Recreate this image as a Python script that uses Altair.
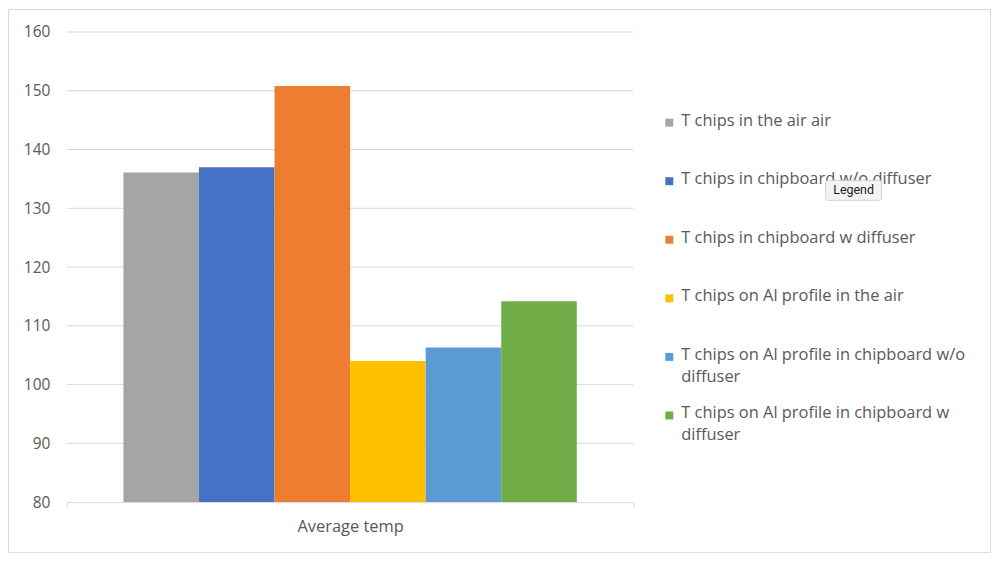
import altair as alt
import pandas as pd

series = [
    "T chips in the air air",
    "T chips in chipboard w/o diffuser",
    "T chips in chipboard w diffuser",
    "T chips on Al profile in the air",
    "T chips on Al profile in chipboard w/o diffuser",
    "T chips on Al profile in chipboard w diffuser",
]
legend_labels = [
    "T chips in the air air",
    "T chips in chipboard w/o diffuser",
    "T chips in chipboard w diffuser",
    "T chips on Al profile in the air",
    "T chips on Al profile in chipboard w/o\ndiffuser",
    "T chips on Al profile in chipboard w\ndiffuser",
]
values = [136.1, 137.0, 150.8, 104.0, 106.3, 114.2]
category = "Average temp"
colors = ["#A5A5A5", "#4472C4", "#ED7D31", "#FFC000", "#5B9BD5", "#70AD47"]
y_ticks = [80, 90, 100, 110, 120, 130, 140, 150, 160]

FONT = "Open Sans"
FS = 15.5
FS_TXT = 16.5
TXT = "#595959"
GRID = "#D9D9D9"

W, H = 986, 545
Y_BOTTOM, Y_TOP = 495, 23
X_LEFT, X_RIGHT = 59, 628

bars_df = pd.DataFrame({"category": [category] * len(series), "series": series, "value": values})
legend_df = pd.DataFrame({"series": series, "label": legend_labels})
grid_df = pd.DataFrame({"tick": y_ticks[1:]})

color = alt.Color("series:N", scale=alt.Scale(domain=series, range=colors), legend=None)
yscale = alt.Scale(domain=[80, 160], range=[Y_BOTTOM, Y_TOP], nice=False, zero=False)

grid = alt.Chart(grid_df).mark_rule(color=GRID, strokeWidth=1).encode(
    y=alt.Y("tick:Q", scale=yscale, axis=None),
    x=alt.value(X_LEFT),
    x2=alt.value(X_RIGHT),
)

bars = alt.Chart(bars_df).mark_bar().encode(
    x=alt.X(
        "category:N",
        title=None,
        scale=alt.Scale(range=[X_LEFT, X_RIGHT], paddingInner=0, paddingOuter=0),
        axis=alt.Axis(
            orient="bottom", offset=-(H - Y_BOTTOM), labelAngle=0,
            labelFont=FONT, labelFontSize=FS_TXT, labelColor=TXT, labelPadding=12,
            domainColor=GRID, tickColor=GRID, tickSize=5, tickBand="extent",
            grid=False,
        ),
    ),
    xOffset=alt.XOffset("series:N", sort=series, scale=alt.Scale(paddingInner=0, paddingOuter=0.75)),
    y=alt.Y(
        "value:Q", title=None, scale=yscale,
        axis=alt.Axis(
            orient="left", offset=-X_LEFT, values=y_ticks, domain=False, ticks=False,
            grid=False, labelFont=FONT, labelFontSize=FS, labelColor=TXT, labelPadding=17,
        ),
    ),
    y2=alt.datum(80),
    color=color,
)

leg_scale = alt.Scale(domain=series, range=[114, 408], padding=0)

leg_sym = alt.Chart(legend_df).mark_square(size=64, opacity=1).encode(
    x=alt.value(664),
    y=alt.Y("series:N", sort=series, scale=leg_scale, axis=None),
    color=color,
)
leg_txt = alt.Chart(legend_df).mark_text(
    align="left", baseline="top", dy=-10, font=FONT, fontSize=FS_TXT, color=TXT,
    lineBreak="\n", lineHeight=22,
).encode(
    x=alt.value(676),
    y=alt.Y("series:N", sort=series, scale=leg_scale, axis=None),
    text="label:N",
)

tip_df = pd.DataFrame({"t": ["Legend"]})
tip_box = alt.Chart(tip_df).mark_rect(
    fill="#F4F4F4", stroke="#C8C8C8", strokeWidth=0.8, cornerRadius=2
).encode(x=alt.value(821), x2=alt.value(877), y=alt.value(172), y2=alt.value(192))
tip_txt = alt.Chart(tip_df).mark_text(
    font="Roboto", fontSize=12.5, color="#222222", align="center", baseline="middle"
).encode(x=alt.value(849), y=alt.value(182), text="t:N")

chart = alt.layer(grid, bars, leg_sym, leg_txt, tip_box, tip_txt).resolve_scale(
    y="independent"
).properties(
    width=W, height=H, background="white",
    padding={"left": 0, "top": 0, "right": 2, "bottom": 2},
).configure_view(
    stroke=GRID, strokeWidth=1
)

chart.save("out.html", embed_options={"renderer": "svg", "actions": False})
